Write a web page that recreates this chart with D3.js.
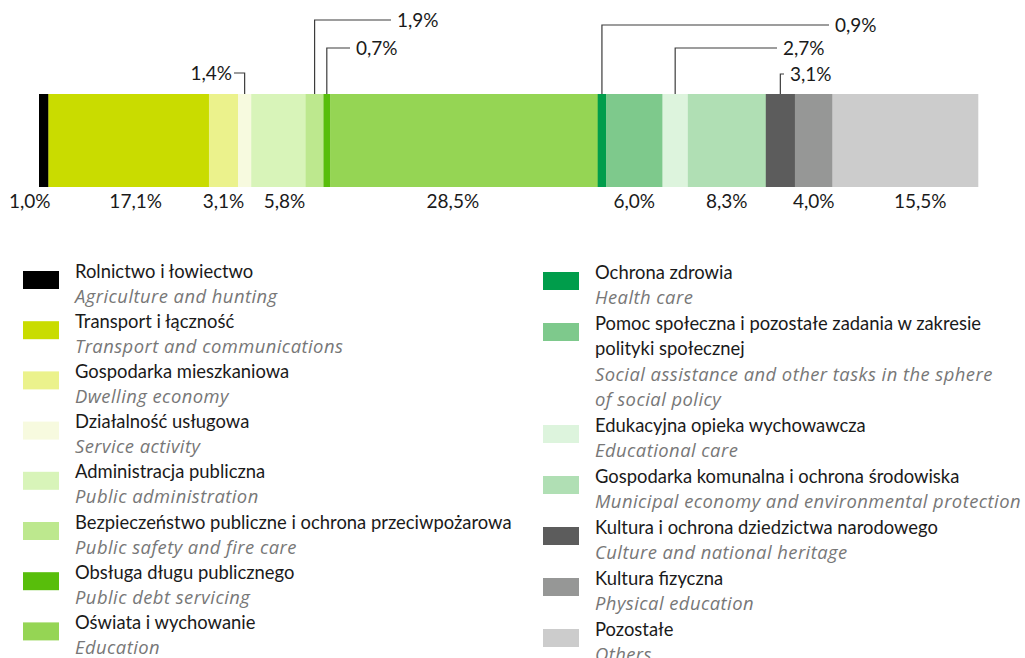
<!DOCTYPE html>
<html>
<head>
<meta charset="utf-8">
<script src="https://cdn.jsdelivr.net/npm/d3@7"></script>
<style>
  body { margin: 0; background: #fff; }
  svg { font-family: Lato, "Open Sans", sans-serif; }
</style>
</head>
<body>
<svg width="1025" height="658"></svg>
<script>
'use strict'

// ---- data ----
const namesPl = [
  'Rolnictwo i łowiectwo',
  'Transport i łączność',
  'Gospodarka mieszkaniowa',
  'Działalność usługowa',
  'Administracja publiczna',
  'Bezpieczeństwo publiczne i ochrona przeciwpożarowa',
  'Obsługa długu publicznego',
  'Oświata i wychowanie',
  'Ochrona zdrowia',
  'Pomoc społeczna i pozostałe zadania w zakresie\npolityki społecznej',
  'Edukacyjna opieka wychowawcza',
  'Gospodarka komunalna i ochrona środowiska',
  'Kultura i ochrona dziedzictwa narodowego',
  'Kultura fizyczna',
  'Pozostałe'
]
const namesEn = [
  'Agriculture and hunting',
  'Transport and communications',
  'Dwelling economy',
  'Service activity',
  'Public administration',
  'Public safety and fire care',
  'Public debt servicing',
  'Education',
  'Health care',
  'Social assistance and other tasks in the sphere\nof social policy',
  'Educational care',
  'Municipal economy and environmental protection',
  'Culture and national heritage',
  'Physical education',
  'Others'
]
const shares = [1.0, 17.1, 3.1, 1.4, 5.8, 1.9, 0.7, 28.5, 0.9, 6.0, 2.7, 8.3, 3.1, 4.0, 15.5]
const colors = ['#000000', '#c9dc00', '#ebf28c', '#f7fadf', '#d8f4b9', '#bde88e', '#58be0b', '#95d554',
  '#009d4b', '#7ec98c', '#ddf4dd', '#b0dfb4', '#5c5c5c', '#969796', '#cccccc']

// segments labelled above the bar with a leader: index -> elbow height and label x
const callouts = [
  { i: 3, y: 73, lx: 232, anchor: 'end' },
  { i: 5, y: 20, lx: 397, anchor: 'start' },
  { i: 6, y: 48, lx: 356, anchor: 'start' },
  { i: 8, y: 25, lx: 835, anchor: 'start' },
  { i: 10, y: 48, lx: 783, anchor: 'start' },
  { i: 12, y: 74, lx: 790, anchor: 'start' }
]
// small horizontal nudges of the labels under the bar
const belowShift = { 0: -14, 1: 7, 4: 6, 7: -11, 14: 15 }

// ---- layout ----
const barTop = 94
const barH = 93
const svg = d3.select('svg')
const x = d3.scaleLinear().domain([0, 100]).range([39, 978])

const starts = [0, ...d3.cumsum(shares)].slice(0, shares.length)
const segs = shares.map((v, i) => ({ i, v, x0: starts[i], x1: starts[i] + v, mid: starts[i] + v / 2 }))
const fmt = v => d3.format('.1f')(v).replace('.', ',') + '%'

svg.append('g')
  .selectAll('rect')
  .data(segs)
  .join('rect')
  .attr('x', d => x(d.x0))
  .attr('y', barTop)
  .attr('width', d => x(d.x1) - x(d.x0) + 0.3)
  .attr('height', barH)
  .attr('fill', d => colors[d.i])

const calledOut = new Set(callouts.map(c => c.i))

svg.append('g')
  .selectAll('text')
  .data(segs.filter(d => !calledOut.has(d.i)))
  .join('text')
  .attr('x', d => x(d.mid) + (belowShift[d.i] || 0))
  .attr('y', barTop + barH + 21)
  .attr('text-anchor', 'middle')
  .attr('font-size', 19)
  .attr('fill', '#1a1a1a')
  .text(d => fmt(d.v))

const co = svg.append('g')
  .selectAll('g')
  .data(callouts)
  .join('g')

co.append('polyline')
  .attr('points', c => {
    const sx = x(segs[c.i].mid)
    const ex = c.anchor === 'end' ? c.lx + 2 : c.lx - 6
    return [[sx, barTop], [sx, c.y], [ex, c.y]].map(p => p.join(',')).join(' ')
  })
  .attr('fill', 'none')
  .attr('stroke', '#3c3c3c')
  .attr('stroke-width', 1.2)

co.append('text')
  .attr('x', c => c.lx)
  .attr('y', c => c.y + 7)
  .attr('text-anchor', c => c.anchor)
  .attr('font-size', 19)
  .attr('fill', '#1a1a1a')
  .text(c => fmt(shares[c.i]))

// ---- legend ----
const columns = [
  { items: d3.range(0, 8), sx: 23, tx: 75, y0: 271, lh: 25.1 },
  { items: d3.range(8, 15), sx: 543, tx: 595, y0: 272, lh: 25.5 }
]

columns.forEach(col => {
  let line = 0
  col.items.forEach(i => {
    const pl = namesPl[i].split('\n')
    const en = namesEn[i].split('\n')
    const top = col.y0 + line * col.lh
    const g = svg.append('g')
    g.append('rect')
      .attr('x', col.sx).attr('y', top)
      .attr('width', 36).attr('height', 18)
      .attr('fill', colors[i])
    pl.forEach((t, k) => {
      g.append('text')
        .attr('x', col.tx)
        .attr('y', top + 6.5 + k * col.lh)
        .attr('font-size', 18.4)
        .attr('fill', '#1a1a1a')
        .text(t)
    })
    en.forEach((t, k) => {
      g.append('text')
        .attr('x', col.tx)
        .attr('y', top + 6.5 + (pl.length + k) * col.lh)
        .attr('font-family', '"Open Sans", sans-serif')
        .attr('font-size', 18.4)
        .attr('letter-spacing', 0.45)
        .attr('font-style', 'italic')
        .attr('fill', '#777777')
        .text(t)
    })
    line += pl.length + en.length
  })
})
</script>
</body>
</html>
